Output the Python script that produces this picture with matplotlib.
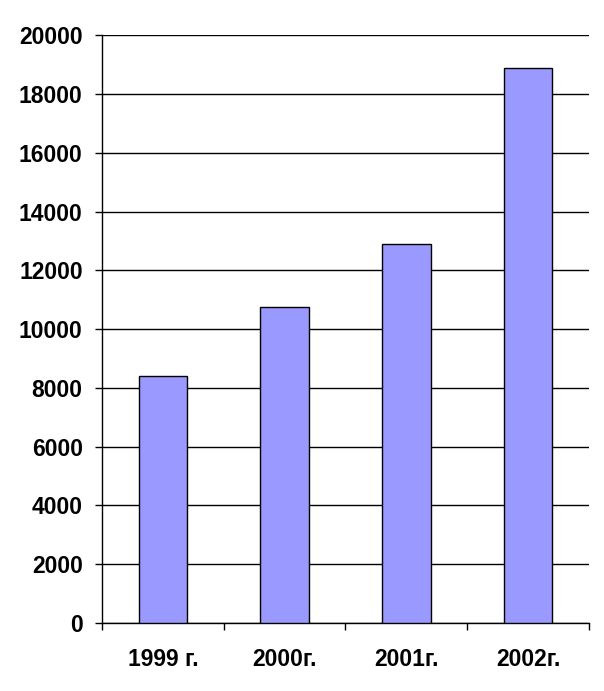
import matplotlib
matplotlib.use("Agg")
import matplotlib.pyplot as plt
import numpy as np

years = ["1999 г.", "2000г.", "2001г.", "2002г."]
values = [8400, 10750, 12900, 18900]
y_ticks = list(range(0, 20001, 2000))

plt.rcParams["font.family"] = ["Liberation Sans", "DejaVu Sans"]
plt.rcParams["font.weight"] = "bold"

fig = plt.figure(figsize=(6.04, 6.91), dpi=100)
ax = fig.add_axes([0.169, 0.0984, 0.806, 0.8506])

x = np.arange(len(years))
ax.bar(x, values, width=0.4, color="#9999FF", edgecolor="black", linewidth=1.0, zorder=3)

ax.set_xlim(-0.5, len(years) - 0.5)
ax.set_ylim(0, 20000)
ax.set_yticks(y_ticks)
ax.set_yticklabels([str(v) for v in y_ticks], fontsize=16.5, fontweight="bold")
ax.set_xticks(x)
ax.set_xticklabels(years, fontsize=16.5, fontweight="bold")
ax.set_xticks(np.arange(-0.5, len(years), 1.0), minor=True)

ax.tick_params(axis="x", which="major", length=0, pad=18)
ax.tick_params(axis="x", which="minor", length=5, width=1, direction="out")
ax.tick_params(axis="y", length=5, width=1, direction="out", pad=9)

ax.grid(axis="y", color="black", linewidth=1.0, zorder=0)
ax.set_axisbelow(True)
for s in ["top", "right"]:
    ax.spines[s].set_visible(False)
for s in ["left", "bottom"]:
    ax.spines[s].set_linewidth(1.0)

fig.savefig("out.png", dpi=100)
